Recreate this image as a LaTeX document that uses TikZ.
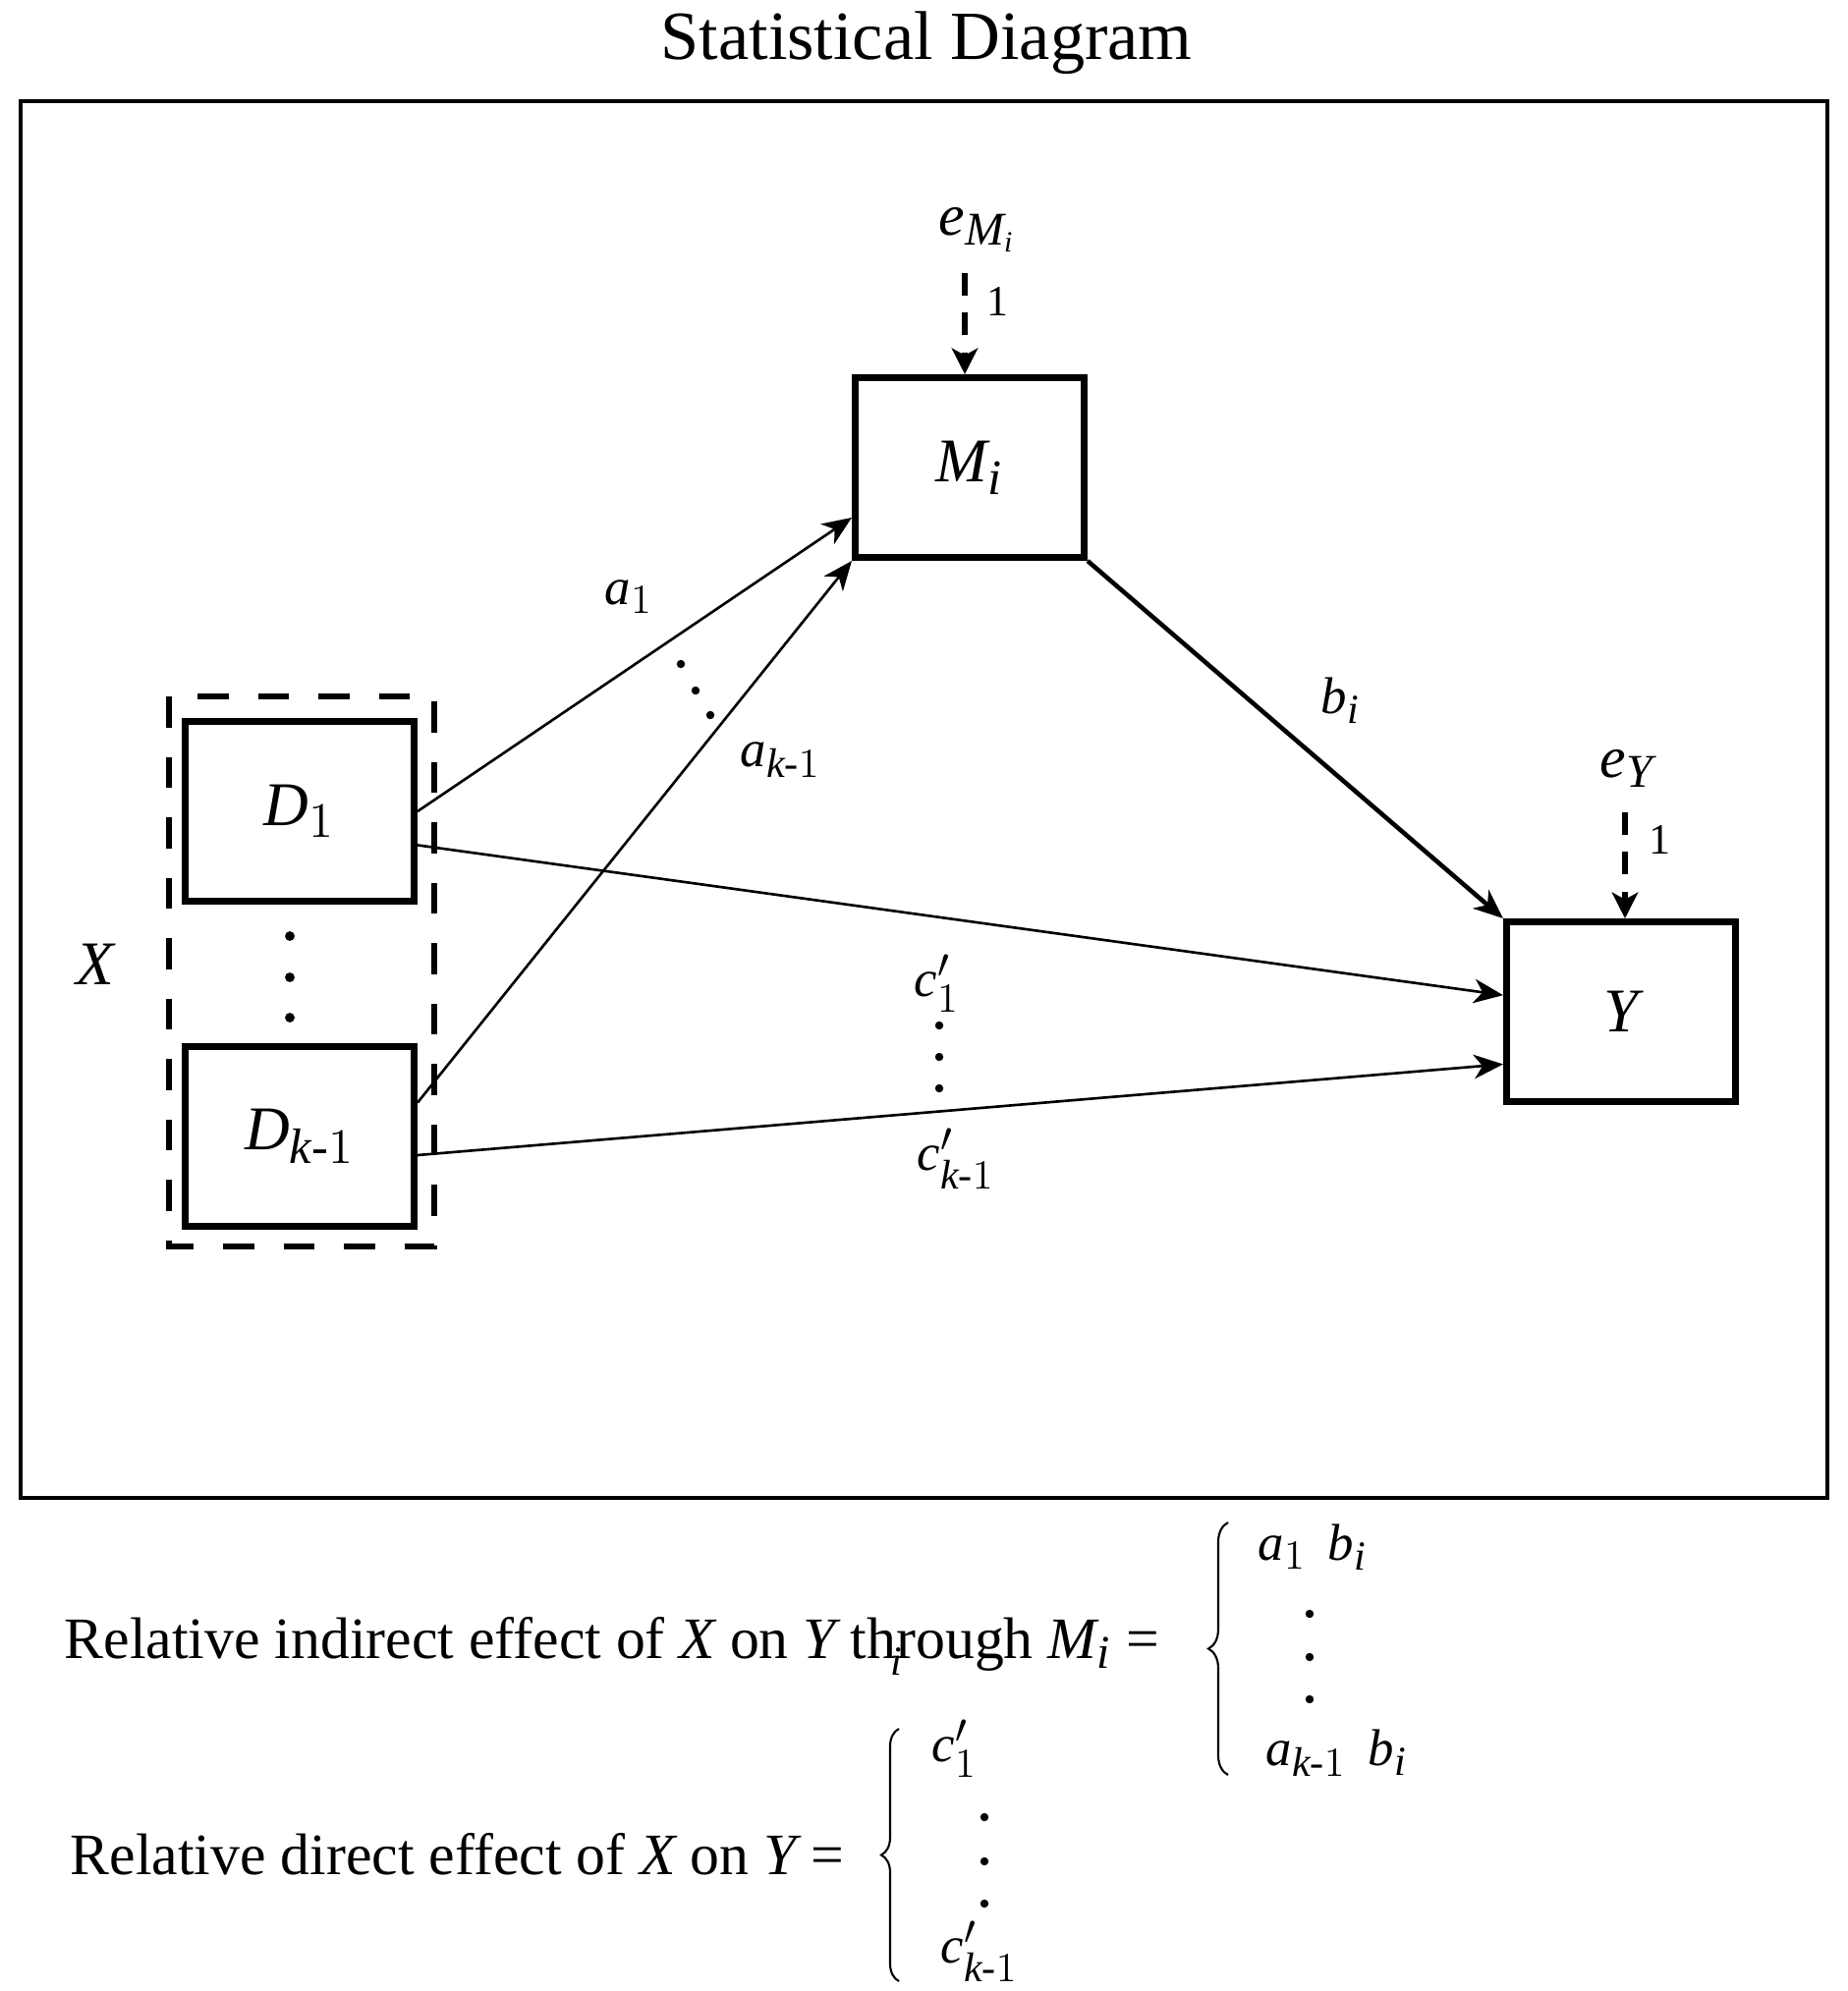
\documentclass[tikz,border=0pt]{standalone}
\usepackage{amsmath}
\usepackage{fontspec}
\setmainfont{Liberation Serif}
\DeclareSymbolFont{letters}{TU}{\rmdefault}{m}{it}
\DeclareSymbolFont{operators}{TU}{\rmdefault}{m}{n}
\def\defaultscriptratio{.8}
\usetikzlibrary{arrows.meta,decorations.pathreplacing}
\begin{document}
\begin{tikzpicture}[x=0.1mm,y=-0.1mm,
  varbox/.style={draw,line width=2pt,minimum width=23.3mm,minimum height=18.3mm,inner sep=0pt,font=\fontsize{18}{21}\selectfont},
  lab/.style={anchor=base west,inner sep=0pt,font=\fontsize{15}{18}\selectfont},
  errlab/.style={anchor=base west,inner sep=0pt,font=\fontsize{17}{20}\selectfont},
  unitlab/.style={inner sep=0pt,font=\fontsize{12.5}{15}\selectfont},
  txt/.style={anchor=base west,inner sep=0pt,font=\fontsize{17}{20}\selectfont},
  effect/.style={line width=0.75pt,-{Stealth[length=8.5pt,width=7pt,inset=2.5pt]}},
  errpath/.style={line width=1.7pt,dash pattern=on 6.5pt off 5pt,-{Stealth[length=7.5pt,width=7.5pt,inset=2pt]}},
  bracepath/.style={line width=0.6pt,decorate,decoration={brace,amplitude=2mm}}]
\useasboundingbox (0,0) rectangle (1881,2027);

\node[anchor=base,inner sep=0pt,font=\fontsize{20}{24}\selectfont] (title) at (943,60) {Statistical Diagram};
\draw[line width=1pt] (21,103) rectangle (1860,1525);

\node[varbox] (M) at (987,476) {$M_i$};
\node[varbox] (D1) at (305,826) {$D_1$};
\node[varbox] (Dk) at (305,1157) {$D_{k\text{-}1}$};
\node[varbox] (Y) at (1650,1030) {$Y$};
\draw[line width=1.6pt,dash pattern=on 9pt off 8.5pt] (172,709) rectangle (442,1269);
\node[font=\fontsize{18}{21}\selectfont] (X) at (97,982) {$X$};
\foreach \y in {953,995,1036} \fill (295,\y) circle (1.4pt);

\node[errlab] (eM) at (955,239) {$e_{M_i}$};
\node[errlab] (eY) at (1628,791) {$e_Y$};
\coordinate (eMtail) at (982,278);
\coordinate (eYtail) at (1654,827);
\draw[errpath] (eMtail) -- (eMtail |- M.north);
\draw[errpath] (eYtail) -- (eYtail |- Y.north);
\node[unitlab] (oneM) at (1015,307) {1};
\node[unitlab] (oneY) at (1689,855) {1};

\draw[effect] (D1.east) -- (M.203);
\draw[effect] (Dk.16) -- (M.south west);
\draw[effect] (D1.-16) -- (Y.172);
\draw[effect] (Dk.-9) -- (Y.204);
\draw[effect,line width=1.3pt] (M.south east) -- (Y.north west);

\node[lab] (a1) at (615,615) {$a_1$};
\node[lab] (ak) at (753,780) {$a_{k\text{-}1}$};
\node[lab] (bi) at (1344,726) {$b_i$};
\node[lab] (c1) at (930,1014) {$c'_1$};
\node[lab] (ck) at (933,1191) {$c'_{k\text{-}1}$};
\fill (693,676) circle (1.2pt);
\fill (708,703) circle (1.2pt);
\fill (723,728) circle (1.2pt);
\foreach \y in {1044,1076,1108} \fill (956,\y) circle (1.2pt);

\node[txt] (ind) at (65,1688) {Relative indirect effect of $X$ on $Y$ through $M_i$ =};
\node[anchor=base west,inner sep=0pt,font=\fontsize{12}{14}\selectfont\itshape] (stray) at (906,1705) {i};
\draw[bracepath] (1250,1807) -- (1250,1550);
\node[lab] (ab1) at (1280,1588) {$a_1\;\,b_i$};
\node[lab] (abk) at (1288,1797) {$a_{k\text{-}1}\;\,b_i$};
\foreach \y in {1643,1687,1730} \fill (1333,\y) circle (1.2pt);

\node[txt] (dir) at (71,1908) {Relative direct effect of $X$ on $Y$ =};
\draw[bracepath,decoration={amplitude=1.8mm}] (915,2017) -- (915,1760);
\node[lab] (cc1) at (948,1793) {$c'_1$};
\node[lab] (cck) at (957,1998) {$c'_{k\text{-}1}$};
\foreach \y in {1850,1895,1938} \fill (1002,\y) circle (1.2pt);

\end{tikzpicture}
\end{document}
